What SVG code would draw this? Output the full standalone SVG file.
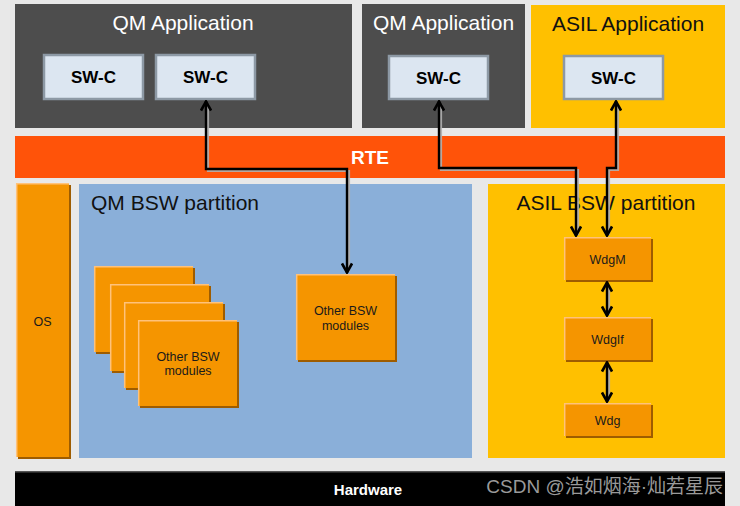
<svg xmlns="http://www.w3.org/2000/svg" width="740" height="506" viewBox="0 0 740 506">
<defs>
<style>
.bg{fill:#e8e8e8}
.qmapp{fill:#4d4d4d}
.asil{fill:#ffc000}
.rte{fill:#ff5309}
.qmbsw{fill:#8aafd9}
.swc{fill:#dce6f1;stroke:#8d99a5;stroke-width:2.5}
.mod{fill:#f59500}
.modsh{fill:#9e5c00}
.modhi{fill:none;stroke:#ffc27a;stroke-width:1.5}
.t-app{font-family:"Liberation Sans",Arial,sans-serif;font-size:21px;text-anchor:middle}
.t-swc{font-family:"Liberation Sans",Arial,sans-serif;font-size:17px;font-weight:bold;fill:#000;text-anchor:middle}
.t-mod{font-family:"Liberation Sans",Arial,sans-serif;font-size:12.5px;fill:#1a1a1a;text-anchor:middle}
.t-part{font-family:"Liberation Sans",Arial,sans-serif;font-size:21px;fill:#111}
.conn{fill:none;stroke:#000;stroke-width:2.4;stroke-linejoin:miter}
.connsh{fill:none;stroke:#b0b0b0;stroke-width:2.2;opacity:0.9}
</style>
<marker id="ah" viewBox="0 0 12 12" refX="11" refY="6" markerWidth="12" markerHeight="12" markerUnits="userSpaceOnUse" orient="auto-start-reverse">
<path d="M1.5,1 L10.5,6 L1.5,11" fill="none" stroke="#000" stroke-width="2.6"/>
</marker>
</defs>
<rect class="bg" x="0" y="0" width="740" height="506"/>

<g id="qm-app-1">
<rect class="qmapp" x="15" y="4" width="337" height="124"/>
<text class="t-app" x="183" y="30" fill="#fff">QM Application</text>
</g>
<g id="qm-app-2">
<rect class="qmapp" x="362" y="4" width="163" height="124"/>
<text class="t-app" x="443.5" y="30" fill="#fff">QM Application</text>
</g>
<g id="asil-app">
<rect class="asil" x="531" y="5" width="194" height="123"/>
<text class="t-app" x="628" y="31" fill="#111">ASIL Application</text>
</g>

<g id="swc-1">
<rect class="swc" x="44" y="55" width="99" height="44"/>
<text class="t-swc" x="93.5" y="83">SW-C</text>
</g>
<g id="swc-2">
<rect class="swc" x="156" y="55" width="99" height="44"/>
<text class="t-swc" x="205.5" y="83">SW-C</text>
</g>
<g id="swc-3">
<rect class="swc" x="389" y="56" width="99" height="43"/>
<text class="t-swc" x="438.5" y="84">SW-C</text>
</g>
<g id="swc-4">
<rect class="swc" x="564" y="56" width="99" height="43"/>
<text class="t-swc" x="613.5" y="84">SW-C</text>
</g>

<g id="rte">
<rect class="rte" x="15" y="136" width="710" height="42"/>
<text x="370" y="164" font-family="Liberation Sans,Arial,sans-serif" font-size="19" font-weight="bold" fill="#fff" text-anchor="middle">RTE</text>
</g>

<g id="os">
<rect class="modsh" x="18" y="185" width="53" height="274"/>
<rect class="mod" x="16" y="183" width="53" height="274"/>
<path class="modhi" d="M16.7,457 V183.7 H69"/>
<text class="t-mod" x="42.5" y="326">OS</text>
</g>

<g id="qm-bsw">
<rect class="qmbsw" x="79" y="184" width="393" height="274"/>
<text class="t-part" x="91" y="210">QM BSW partition</text>
</g>
<g id="asil-bsw">
<rect class="asil" x="488" y="184" width="237" height="274"/>
<text class="t-part" x="606" y="210" text-anchor="middle">ASIL BSW partition</text>
</g>

<g id="qm-modules-stack">
<rect class="modsh" x="96" y="268" width="99" height="86"/>
<rect class="mod" x="94" y="266" width="99" height="86"/>
<path class="modhi" d="M94.7,352 V266.7 H193"/>
<rect class="modsh" x="112" y="286" width="99" height="87"/>
<rect class="mod" x="110" y="284" width="99" height="87"/>
<path class="modhi" d="M110.7,371 V284.7 H209"/>
<rect class="modsh" x="126" y="304" width="99" height="86"/>
<rect class="mod" x="124" y="302" width="99" height="86"/>
<path class="modhi" d="M124.7,388 V302.7 H223"/>
<rect class="modsh" x="140" y="322" width="99" height="86"/>
<rect class="mod" x="138" y="320" width="99" height="86"/>
<path class="modhi" d="M138.7,406 V320.7 H237"/>
<text class="t-mod" x="188" y="361">Other BSW</text>
<text class="t-mod" x="188" y="375">modules</text>
</g>

<g id="qm-other-bsw">
<rect class="modsh" x="298" y="276" width="99" height="86"/>
<rect class="mod" x="296" y="274" width="99" height="86"/>
<path class="modhi" d="M296.7,360 V274.7 H395"/>
<text class="t-mod" x="345.5" y="315">Other BSW</text>
<text class="t-mod" x="345.5" y="330">modules</text>
</g>

<g id="wdgm">
<rect class="modsh" x="566" y="239" width="87" height="43"/>
<rect class="mod" x="564" y="237" width="87" height="43"/>
<path class="modhi" d="M564.7,280 V237.7 H651"/>
<text class="t-mod" x="607.5" y="264">WdgM</text>
</g>
<g id="wdgif">
<rect class="modsh" x="566" y="319" width="87" height="43"/>
<rect class="mod" x="564" y="317" width="87" height="43"/>
<path class="modhi" d="M564.7,360 V317.7 H651"/>
<text class="t-mod" x="607.5" y="344">WdgIf</text>
</g>
<g id="wdg">
<rect class="modsh" x="566" y="405" width="87" height="33"/>
<rect class="mod" x="564" y="403" width="87" height="33"/>
<path class="modhi" d="M564.7,436 V403.7 H651"/>
<text class="t-mod" x="607.5" y="425">Wdg</text>
</g>

<g id="hardware">
<rect x="15" y="471" width="710" height="35" fill="#000"/>
<rect x="15" y="471" width="710" height="1.5" fill="#555"/>
<text x="368" y="495" font-family="Liberation Sans,Arial,sans-serif" font-size="15" font-weight="bold" fill="#fff" text-anchor="middle">Hardware</text>
</g>

<g id="connectors">
<path class="connsh" d="M208,104 V171 H349 V272"/>
<path class="connsh" d="M441,104 V170 H578 V235"/>
<path class="connsh" d="M618,104 V170 H609 V235"/>
<path class="connsh" d="M609,285 V315"/>
<path class="connsh" d="M609,365 V401"/>
<path class="conn" d="M206,101 V169 H347 V273" marker-start="url(#ah)" marker-end="url(#ah)"/>
<path class="conn" d="M439,101 V168 H576 V236" marker-start="url(#ah)" marker-end="url(#ah)"/>
<path class="conn" d="M616,101 V168 H607 V236" marker-start="url(#ah)" marker-end="url(#ah)"/>
<path class="conn" d="M607,282 V316" marker-start="url(#ah)" marker-end="url(#ah)"/>
<path class="conn" d="M607,362 V402" marker-start="url(#ah)" marker-end="url(#ah)"/>
</g>

<text x="723" y="493" font-family="Liberation Sans,Noto Sans CJK SC,sans-serif" font-size="19" fill="#9a9a9a" text-anchor="end">CSDN @浩如烟海·灿若星辰</text>
</svg>
